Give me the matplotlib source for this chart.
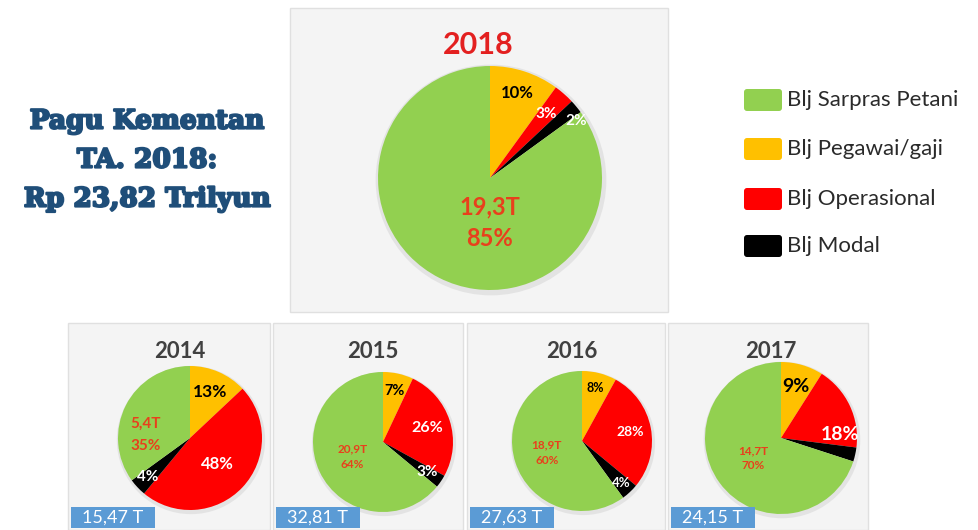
import numpy as np
import matplotlib.pyplot as plt
import matplotlib.patheffects as pe
from matplotlib.patches import Rectangle, FancyBboxPatch, Circle

# Data
categories = ['Blj Pegawai/gaji', 'Blj Operasional', 'Blj Modal', 'Blj Sarpras Petani']
legend_order = ['Blj Sarpras Petani', 'Blj Pegawai/gaji', 'Blj Operasional', 'Blj Modal']
pie_colors = ['#ffc000', '#ff0000', '#000000', '#92d050']

year_main = '2018'
pct_2018 = [10, 3, 2, 85]
sarpras_2018 = '19,3T'

years = ['2014', '2015', '2016', '2017']
pct_2014 = [13, 48, 4, 35]
pct_2015 = [7, 26, 3, 64]
pct_2016 = [8, 28, 4, 60]
pct_2017 = [9, 18, 3, 70]
sarpras_values = ['5,4T', '20,9T', '18,9T', '14,7T']
totals = ['15,47 T', '32,81 T', '27,63 T', '24,15 T']

title_lines = ['Pagu Kementan', 'TA. 2018:', 'Rp 23,82 Trilyun']

W, H = 979, 530
FONT = 'Lato'


def Y(y):
    return H - y


def draw_pie(ax, values, cx, cy, r, pct_size, green_text, green_size, green_dist,
             pct_dist, pct_shift=(0, 0, 0), green_angle=None, green_spacing=1.45,
             show_black=True):
    # soft halo standing in for the shadow
    ax.add_patch(Circle((cx + 1, Y(cy) - 2), r * 1.03, facecolor='#d8d8d8',
                        edgecolor='none', alpha=0.6, zorder=0.5))
    wedges, _ = ax.pie(values, colors=pie_colors, startangle=90, counterclock=False,
                       center=(cx, Y(cy)), radius=r,
                       wedgeprops=dict(linewidth=0, zorder=1))
    text_colors = ['black', 'white', 'white']
    for i, w in enumerate(wedges):
        mid = (w.theta1 + w.theta2) / 2
        if i < 3:
            if i == 2 and not show_black:
                continue
            a = np.radians(mid + pct_shift[i])
            d = pct_dist[i] * r
            ax.text(cx + d * np.cos(a), Y(cy) + d * np.sin(a), f'{values[i]}%',
                    ha='center', va='center', fontsize=pct_size[i], fontweight='bold',
                    color=text_colors[i], family=FONT, zorder=3)
        else:
            a = np.radians(mid if green_angle is None else green_angle)
            d = green_dist * r
            ax.text(cx + d * np.cos(a), Y(cy) + d * np.sin(a),
                    f'{green_text}\n{values[i]}%', ha='center', va='center',
                    fontsize=green_size, fontweight='bold', color='#e8401c',
                    family=FONT, linespacing=green_spacing, zorder=3)


fig = plt.figure(figsize=(W / 100, H / 100), dpi=100)
ax = fig.add_axes([0, 0, 1, 1])

# Panels
ax.add_patch(Rectangle((290, Y(312)), 378, 304, facecolor='#f4f4f4',
                       edgecolor='#e0e0e0', lw=1, zorder=0))
panel_x = [68, 273, 467, 668]
panel_w = [202, 190, 198, 200]
for px, pw in zip(panel_x, panel_w):
    ax.add_patch(Rectangle((px, 0), pw, Y(323), facecolor='#f4f4f4',
                           edgecolor='#e0e0e0', lw=1, zorder=0))

# Main 2018 pie
ax.text(478, Y(45), year_main, ha='center', va='center', fontsize=22,
        fontweight='bold', color='#e32020', family=FONT)
draw_pie(ax, pct_2018, 490, 178, 112, [12, 11, 11], sarpras_2018, 17, 0.4,
         [0.8, 0.76, 0.92], pct_shift=(0, 0, -6), green_angle=-90)

# Small pies
centers = [(190, 438, 72), (383, 442, 70), (582, 441, 70), (781, 438, 76)]
small_pcts = [pct_2014, pct_2015, pct_2016, pct_2017]
pct_sizes = [[12.5, 12, 11], [10.5, 11.5, 11], [9, 10, 9.5], [14, 14, 10]]
green_sizes = [11, 8.5, 8.5, 8.5]
green_dists = [0.62, 0.48, 0.53, 0.45]
green_angles = [176, None, None, None]
green_spacings = [1.75, 1.5, 1.5, 1.5]
pct_dists = [[0.7, 0.52, 0.8], [0.75, 0.67, 0.76], [0.78, 0.7, 0.82], [0.7, 0.78, 0.8]]
pct_shifts = [(0, 0, 0), (0, 0, 0), (0, 0, 0), (0, -22, 0)]
for k, (yr, vals) in enumerate(zip(years, small_pcts)):
    cx, cy, r = centers[k]
    ax.text(cx - 10, Y(352), yr, ha='center', va='center',
            fontsize=16, fontweight='bold', color='#404040', family=FONT)
    draw_pie(ax, vals, cx, cy, r, pct_sizes[k], sarpras_values[k], green_sizes[k],
             green_dists[k], pct_dists[k], pct_shift=pct_shifts[k],
             green_angle=green_angles[k], green_spacing=green_spacings[k],
             show_black=(k != 3))
    ax.add_patch(Rectangle((panel_x[k] + 3, Y(528)), 84, 21, facecolor='#5b9bd5',
                           edgecolor='none', zorder=5))
    ax.text(panel_x[k] + 45, Y(517.5), totals[k], ha='center', va='center',
            fontsize=13, color='white', family=FONT, zorder=6)

# Left title (stroke to make the slab face heavier)
for i, line in enumerate(title_lines):
    ax.text(147, Y(121 + 39 * i), line, ha='center', va='center', fontsize=19,
            fontweight='bold', color='#1f4e79', family='DejaVu Serif',
            path_effects=[pe.withStroke(linewidth=1.6, foreground='#1f4e79')])

# Legend
legend_y = [100, 149, 199, 246]
color_map = dict(zip(categories, pie_colors))
for lab, ly in zip(legend_order, legend_y):
    ax.add_patch(FancyBboxPatch((744, Y(ly + 11)), 38, 22,
                                boxstyle='round,pad=0,rounding_size=3',
                                facecolor=color_map[lab], edgecolor='none'))
    ax.text(787, Y(ly), lab, ha='left', va='center', fontsize=16,
            color='#2a2a2a', family=FONT)

ax.set_xlim(0, W)
ax.set_ylim(0, H)
ax.set_aspect('equal')
ax.axis('off')

fig.savefig('out.png', dpi=100)
